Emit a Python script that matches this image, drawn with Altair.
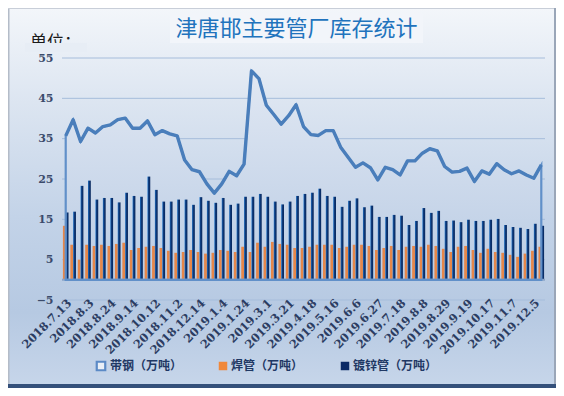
import altair as alt
import pandas as pd

# ---------------- data ----------------
dates = [
    "2018.7.13", "2018.7.20", "2018.7.27", "2018.8.3", "2018.8.10", "2018.8.17",
    "2018.8.24", "2018.8.31", "2018.9.7", "2018.9.14", "2018.9.21", "2018.9.28",
    "2018.10.12", "2018.10.19", "2018.10.26", "2018.11.2", "2018.11.23", "2018.12.7",
    "2018.12.14", "2018.12.21", "2018.12.28", "2019.1.4", "2019.1.11", "2019.1.18",
    "2019.1.24", "2019.1.31", "2019.2.22", "2019.3.1", "2019.3.7", "2019.3.14",
    "2019.3.21", "2019.3.28", "2019.4.11", "2019.4.18", "2019.4.25", "2019.5.9",
    "2019.5.16", "2019.5.23", "2019.5.30", "2019.6.6", "2019.6.13", "2019.6.20",
    "2019.6.27", "2019.7.4", "2019.7.11", "2019.7.18", "2019.7.25", "2019.8.1",
    "2019.8.8", "2019.8.15", "2019.8.22", "2019.8.29", "2019.9.5", "2019.9.12",
    "2019.9.19", "2019.9.26", "2019.10.10", "2019.10.17", "2019.10.24", "2019.10.31",
    "2019.11.7", "2019.11.14", "2019.11.21", "2019.12.5", "2019.12.12",
]
strip_steel = [
    35.7, 39.7, 34.3, 37.6, 36.4, 38.0, 38.4, 39.7, 40.1, 37.6, 37.6, 39.4, 36.0,
    37.0, 36.2, 35.7, 29.7, 27.3, 26.8, 23.8, 21.5, 23.8, 26.9, 25.8, 28.7, 51.8,
    49.9, 43.3, 41.0, 38.6, 40.7, 43.4, 38.0, 36.0, 35.8, 37.0, 37.0, 32.9, 30.4,
    27.9, 29.0, 27.8, 24.8, 27.9, 27.3, 26.0, 29.5, 29.5, 31.4, 32.5, 32.0, 28.1,
    26.7, 26.9, 27.7, 24.4, 27.0, 26.2, 28.8, 27.3, 26.3, 27.0, 26.0, 25.2, 28.5,
]
welded_pipe = [
    13.4, 8.7, 5.0, 8.7, 8.4, 8.7, 8.4, 8.9, 9.2, 7.4, 7.9, 8.2, 8.4, 7.9, 7.2,
    6.7, 6.9, 7.4, 6.9, 6.5, 6.7, 7.4, 7.2, 6.9, 8.2, 6.9, 9.2, 8.2, 9.4, 8.9,
    8.7, 7.9, 7.9, 8.2, 8.7, 8.7, 8.7, 7.9, 8.2, 8.7, 8.7, 8.4, 7.4, 7.9, 8.4,
    7.4, 8.2, 8.4, 8.2, 8.7, 8.4, 7.7, 6.9, 8.2, 8.4, 7.4, 6.7, 7.7, 6.9, 6.7,
    6.2, 5.7, 6.5, 7.2, 8.2,
]
galvanized_pipe = [
    16.7, 16.9, 23.3, 24.6, 19.9, 20.3, 20.3, 19.2, 21.6, 20.8, 20.6, 25.6, 22.3,
    19.4, 19.4, 19.9, 19.9, 18.6, 20.5, 19.6, 19.1, 20.3, 18.6, 18.9, 20.6, 20.6,
    21.3, 20.6, 19.4, 18.7, 19.4, 20.8, 21.3, 21.6, 22.6, 20.8, 20.6, 18.1, 19.6,
    20.2, 18.0, 18.4, 15.6, 15.6, 16.1, 15.9, 13.6, 14.6, 17.8, 16.6, 17.1, 14.6,
    14.7, 14.3, 14.9, 14.6, 14.6, 14.9, 15.1, 13.6, 13.1, 12.9, 12.6, 13.9, 13.4,
]
y_ticks = [-5, 5, 15, 25, 35, 45, 55]
x_label_dates = dates[::3]
series_names = ["带钢（万吨）", "焊管（万吨）", "镀锌管（万吨）"]
title_text = "津唐邯主要管厂库存统计"
unit_text = "单位："

# ---------------- layout ----------------
W, H = 483, 242
PL, PT, PR, PB = 54, 50, 11, 88

df = pd.DataFrame({
    "date": dates,
    "steel": strip_steel,
    "welded": welded_pipe,
    "galv": galvanized_pipe,
})
one = pd.DataFrame({"k": [0]})

LBL_FONT = "DejaVu Serif"
CJK = "Noto Sans CJK SC"

x_axis = alt.Axis(
    values=x_label_dates, labelAngle=-45, labelAlign="right", labelBaseline="top",
    domain=False, ticks=False, grid=False, title=None, labelOverlap=False,
    labelFont=LBL_FONT, labelFontSize=11.5, labelFontWeight="bold",
    labelColor="#2c3d62", labelPadding=-3, zindex=2,
)
x_enc = alt.X("date:N", sort=dates, scale=alt.Scale(paddingInner=0, paddingOuter=0), axis=x_axis)
y_scale = alt.Scale(domain=[-5, 55], nice=False, zero=False)
y_axis = alt.Axis(
    values=y_ticks, grid=False, domain=False, ticks=False, title=None,
    labelFont=LBL_FONT, labelFontSize=11, labelFontWeight="bold",
    labelColor="#3b4b6b", labelPadding=9, zindex=2,
)

# background gradient covering the whole chart
bg = alt.Chart(one).mark_rect(
    fill={
        "gradient": "linear", "x1": 0, "y1": 0, "x2": 0, "y2": 1,
        "stops": [
            {"offset": 0, "color": "#f3f6fa"},
            {"offset": 0.25, "color": "#dce5f1"},
            {"offset": 0.55, "color": "#c3d3e8"},
            {"offset": 0.8, "color": "#b6c9e2"},
            {"offset": 1, "color": "#c7d6ea"},
        ],
    }
).encode(
    x=alt.value(-PL), x2=alt.value(W + PR), y=alt.value(-PT), y2=alt.value(H + PB)
)

frame_left = alt.Chart(one).mark_rect(fill="#b4bcc8").encode(
    x=alt.value(-PL), x2=alt.value(-PL + 1.5), y=alt.value(-PT), y2=alt.value(H + PB)
)
frame_top = alt.Chart(one).mark_rect(fill="#c8ced8").encode(
    x=alt.value(-PL), x2=alt.value(W + PR), y=alt.value(-PT), y2=alt.value(-PT + 1)
)
frame_right = alt.Chart(one).mark_rect(fill="#9aa6b8").encode(
    x=alt.value(W + PR - 2), x2=alt.value(W + PR), y=alt.value(-PT), y2=alt.value(H + PB)
)
frame_bottom = alt.Chart(one).mark_rect(fill="#34507a").encode(
    x=alt.value(-PL), x2=alt.value(W + PR), y=alt.value(H + PB - 4), y2=alt.value(H + PB)
)

title_box = alt.Chart(one).mark_rect(fill="#f2f5fa").encode(
    x=alt.value(108), x2=alt.value(361), y=alt.value(-45), y2=alt.value(-15)
)
title = alt.Chart(pd.DataFrame({"t": [title_text]})).mark_text(
    font=CJK, fontSize=22, color="#2173bd", align="center", baseline="middle"
).encode(text="t:N", x=alt.value(234.5), y=alt.value(-29))

unit = alt.Chart(pd.DataFrame({"t": [unit_text]})).mark_text(
    font=CJK, fontSize=17, color="#1a1a1a", align="left", baseline="alphabetic"
).encode(text="t:N", x=alt.value(-32), y=alt.value(-10))
unit_cover = alt.Chart(one).mark_rect(fill="#e7edf5").encode(
    x=alt.value(-37), x2=alt.value(25), y=alt.value(-15), y2=alt.value(-6)
)

grid = alt.Chart(pd.DataFrame({"v": y_ticks})).mark_rule(
    color="#a6bddb", strokeWidth=1
).encode(y=alt.Y("v:Q", scale=y_scale, axis=y_axis), x=alt.value(0), x2=alt.value(W))

area_fill = alt.Chart(df).mark_area(
    fill={
        "gradient": "linear", "x1": 0, "y1": 0, "x2": 0, "y2": 1,
        "stops": [
            {"offset": 0, "color": "#e1e8f3"},
            {"offset": 1, "color": "#bacce4"},
        ],
    },
    opacity=1,
).encode(x=x_enc, y=alt.Y("steel:Q", scale=y_scale, axis=y_axis), y2=alt.datum(0))

bars_w = alt.Chart(df).mark_bar(width=2.8, xOffset=-1.4, color="#e6874a").encode(
    x=x_enc, y=alt.Y("welded:Q", scale=y_scale, axis=y_axis), y2=alt.datum(0)
)
bars_g = alt.Chart(df).mark_bar(
    width=2.8, xOffset=1.4,
    fill={
        "gradient": "linear", "x1": 0, "y1": 0, "x2": 1, "y2": 0,
        "stops": [
            {"offset": 0, "color": "#2476c8"},
            {"offset": 0.4, "color": "#0d3a7c"},
            {"offset": 1, "color": "#08265a"},
        ],
    },
).encode(x=x_enc, y=alt.Y("galv:Q", scale=y_scale, axis=y_axis), y2=alt.datum(0))

zero_line = alt.Chart(one).mark_rule(color="#8aa4c8", strokeWidth=2).encode(
    y=alt.datum(0), x=alt.value(0), x2=alt.value(W)
)

area_edge = alt.Chart(df).mark_area(
    fillOpacity=0, stroke="#6190c9", strokeWidth=2.2
).encode(x=x_enc, y=alt.Y("steel:Q", scale=y_scale, axis=y_axis), y2=alt.datum(0))

line = alt.Chart(df).mark_line(
    color="#4a7ebb", strokeWidth=3.4, strokeJoin="round"
).encode(x=x_enc, y=alt.Y("steel:Q", scale=y_scale, axis=y_axis))

# ----- legend (manual) -----
LEG_Y = 308
leg_layers = []
sym_x = [39, 161, 283]
txt_x = [48, 169, 291]
sym_fill = ["#e9eff7", "#f0883a", "#0a2a66"]
sym_stroke = ["#5b8ac6", "#f0883a", "#0a2a66"]
sym_sw = [2.2, 0, 0]
for i, name in enumerate(series_names):
    d = pd.DataFrame({"label": [name]})
    leg_layers.append(
        alt.Chart(d).mark_square(
            size=72, fill=sym_fill[i], stroke=sym_stroke[i],
            strokeWidth=sym_sw[i], opacity=1, fillOpacity=1,
        ).encode(x=alt.value(sym_x[i]), y=alt.value(LEG_Y))
    )
    leg_layers.append(
        alt.Chart(d).mark_text(
            font=CJK, fontSize=12, fontWeight="bold", color="#1f3864",
            align="left", baseline="middle",
        ).encode(text="label:N", x=alt.value(txt_x[i]), y=alt.value(LEG_Y))
    )

chart = alt.layer(
    bg, frame_left, frame_top, frame_right, frame_bottom,
    title_box, title, unit, unit_cover,
    grid, area_fill, bars_w, bars_g, zero_line, area_edge, line,
    *leg_layers,
).properties(
    width=W, height=H,
    autosize=alt.AutoSizeParams(type="none"),
    padding={"left": PL, "top": PT, "right": PR, "bottom": PB},
).configure_view(stroke=None)

chart.save("out.html", embed_options={"renderer": "svg", "actions": False})
